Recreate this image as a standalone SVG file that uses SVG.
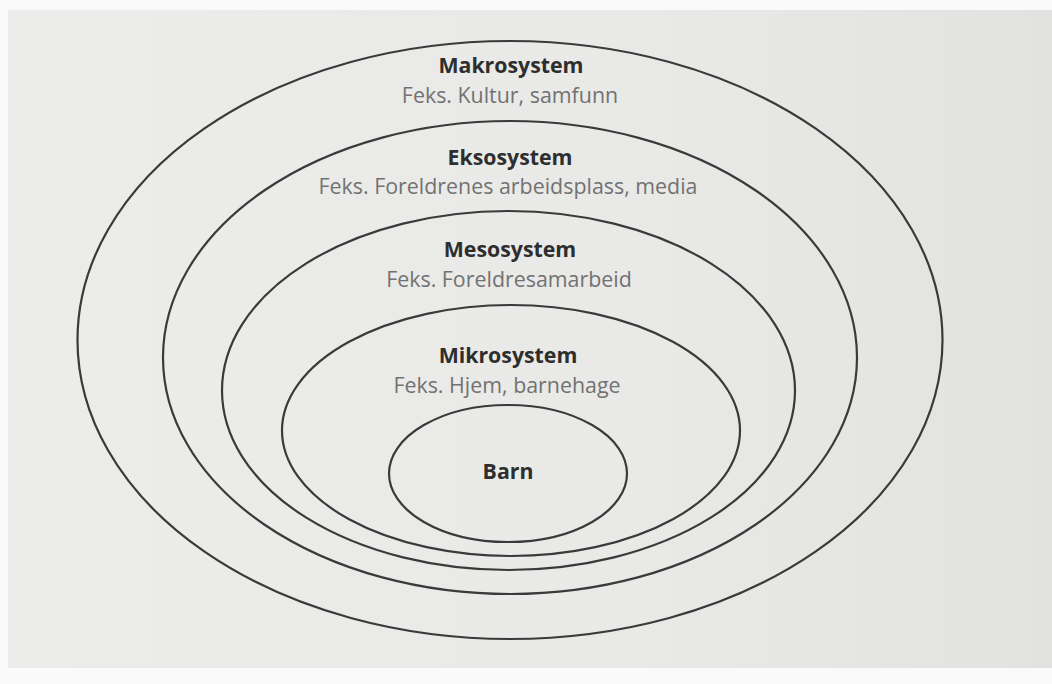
<svg xmlns="http://www.w3.org/2000/svg" width="1052" height="684" viewBox="0 0 1052 684">
  <defs>
    <linearGradient id="paper" x1="0" y1="0" x2="1" y2="0">
      <stop offset="0" stop-color="#ececea"/>
      <stop offset="0.6" stop-color="#e9e9e7"/>
      <stop offset="1" stop-color="#e2e2e0"/>
    </linearGradient>
  </defs>
  <style>
    .ring { fill: none; stroke: #3a3a3a; stroke-width: 2.2; }
    .title { font-family: "Open Sans", "Liberation Sans", sans-serif; font-weight: 700; font-size: 21.3px; fill: #2e2e2e; text-anchor: middle; }
    .sub { font-family: "Open Sans", "Liberation Sans", sans-serif; font-weight: 400; font-size: 21.4px; fill: #727272; text-anchor: middle; }
  </style>
  <rect x="0" y="0" width="1052" height="684" fill="#fafafa"/>
  <rect x="8" y="10" width="1044" height="658" fill="url(#paper)"/>

  <g id="makrosystem">
    <ellipse class="ring" cx="510" cy="340" rx="432.5" ry="299"/>
    <text class="title" x="511" y="73">Makrosystem</text>
    <text class="sub" x="510" y="103">Feks. Kultur, samfunn</text>
  </g>
  <g id="eksosystem">
    <ellipse class="ring" cx="510" cy="357.5" rx="347" ry="236.5"/>
    <text class="title" x="510" y="165">Eksosystem</text>
    <text class="sub" x="508" y="194">Feks. Foreldrenes arbeidsplass, media</text>
  </g>
  <g id="mesosystem">
    <ellipse class="ring" cx="508.5" cy="390.5" rx="286.5" ry="179.5"/>
    <text class="title" x="510" y="257">Mesosystem</text>
    <text class="sub" x="509" y="287">Feks. Foreldresamarbeid</text>
  </g>
  <g id="mikrosystem">
    <ellipse class="ring" cx="511" cy="430.5" rx="229" ry="125.5"/>
    <text class="title" x="508" y="363">Mikrosystem</text>
    <text class="sub" x="507" y="393">Feks. Hjem, barnehage</text>
  </g>
  <g id="barn">
    <ellipse class="ring" cx="508" cy="473.5" rx="119" ry="68.5"/>
    <text class="title" x="508" y="479">Barn</text>
  </g>
  <g id="connectors"/>
</svg>
